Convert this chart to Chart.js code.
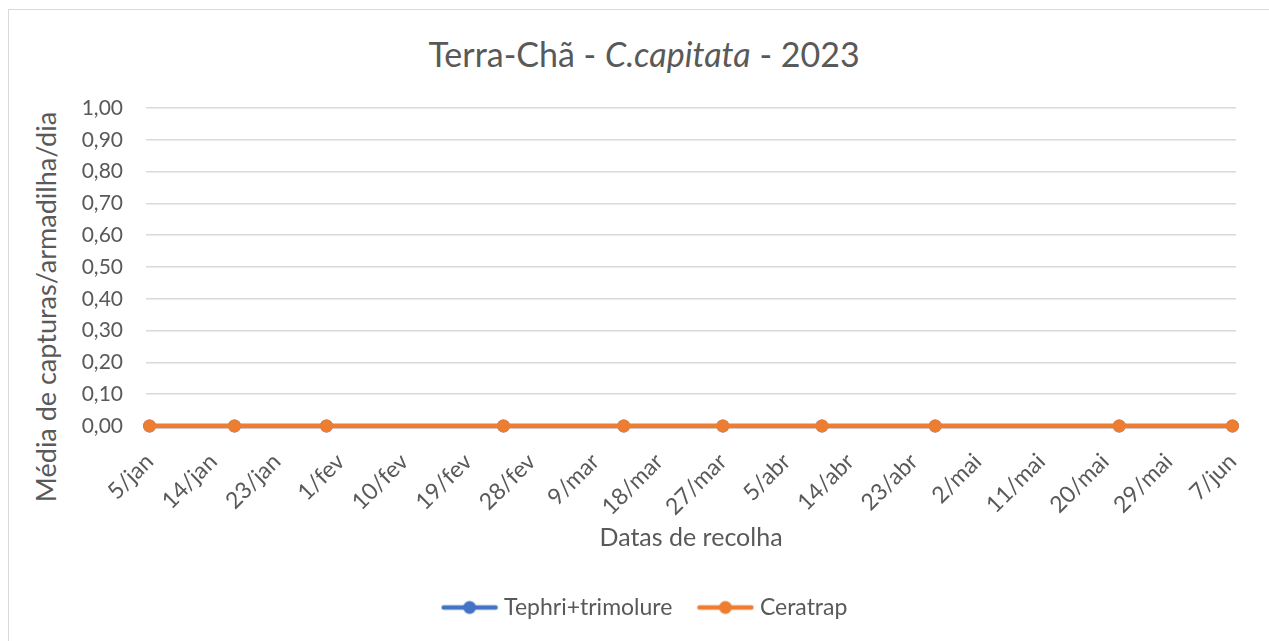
<!DOCTYPE html>
<html lang="pt">
<head>
<meta charset="utf-8">
<title>Terra-Chã - C.capitata - 2023</title>
<script src="https://cdn.jsdelivr.net/npm/chart.js@4/dist/chart.umd.min.js"></script>
<style>
    html, body { margin: 0; padding: 0; background: #ffffff; overflow: hidden; }
    #frame {
        position: absolute; left: 8px; top: 9px; width: 1300px; height: 700px;
        border: 1px solid #d9d9d9; box-sizing: border-box;
    }
    .txt { font-family: Lato, 'Noto Sans', sans-serif; color: #595959; white-space: nowrap; }
    #chartTitle {
        position: absolute; left: 0; width: 1288px; top: 32px; text-align: center;
        font-size: 34px; line-height: 44px;
    }
    #yTitle {
        position: absolute; left: 46px; top: 307px; font-size: 27px; line-height: 30px;
        transform: translate(-50%, -50%) rotate(-90deg);
    }
    #wrap { position: absolute; left: 0; top: 0; width: 1269px; height: 641px; }
</style>
</head>
<body>
<div id="frame"></div>
<div id="chartTitle" class="txt">Terra-Chã - <i>C.capitata</i> - 2023</div>
<div id="yTitle" class="txt">Média de capturas/armadilha/dia</div>
<div id="wrap"><canvas id="myChart" width="1269" height="641"></canvas></div>
<script>
// Datas de recolha
const collectDates = ['2023-01-05', '2023-01-17', '2023-01-30', '2023-02-24', '2023-03-13',
    '2023-03-27', '2023-04-10', '2023-04-26', '2023-05-22', '2023-06-07'];

// Média de capturas/armadilha/dia
const tephriValues = [0, 0, 0, 0, 0, 0, 0, 0, 0, 0];
const ceratrapValues = [0, 0, 0, 0, 0, 0, 0, 0, 0, 0];

// Axis labels
const tickLabels = ['5/jan', '14/jan', '23/jan', '1/fev', '10/fev', '19/fev', '28/fev', '9/mar',
    '18/mar', '27/mar', '5/abr', '14/abr', '23/abr', '2/mai', '11/mai', '20/mai', '29/mai', '7/jun'];
const tickStepDays = 9;

const textColor = '#595959';
const gridColor = '#d9d9d9';
const fontFamily = "Lato, 'Noto Sans', sans-serif";

function dayIndex(iso) {
    const start = Date.parse(collectDates[0] + 'T00:00:00Z');
    return Math.round((Date.parse(iso + 'T00:00:00Z') - start) / 86400000);
}

function toPoints(values) {
    return collectDates.map((d, i) => ({ x: dayIndex(d), y: values[i] }));
}

// Excel-like legend symbol: short line with a dot in the middle
function legendMarker(color) {
    const c = document.createElement('canvas');
    c.width = 58;
    c.height = 16;
    const g = c.getContext('2d');
    g.strokeStyle = color;
    g.lineWidth = 4.5;
    g.lineCap = 'round';
    g.beginPath();
    g.moveTo(3, 8);
    g.lineTo(55, 8);
    g.stroke();
    g.fillStyle = color;
    g.beginPath();
    g.arc(29, 8, 6.5, 0, Math.PI * 2);
    g.fill();
    return c;
}

// nudge the legend to the right like in the original
const legendShift = {
    id: 'legendShift',
    afterLayout(chart) {
        if (chart.legend) {
            chart.legend.left += 29;
            chart.legend.right += 29;
        }
    }
};

const lastDay = dayIndex(collectDates[collectDates.length - 1]);

const ctx = document.getElementById('myChart').getContext('2d');
const myChart = new Chart(ctx, {
    type: 'line',
    data: {
        datasets: [{
            label: 'Tephri+trimolure',
            data: toPoints(tephriValues),
            borderColor: '#4472c4',
            backgroundColor: '#4472c4',
            order: 1
        }, {
            label: 'Ceratrap',
            data: toPoints(ceratrapValues),
            borderColor: '#ed7d31',
            backgroundColor: '#ed7d31',
            order: 0
        }]
    },
    plugins: [legendShift],
    options: {
        responsive: false,
        animation: false,
        devicePixelRatio: 1,
        layout: { padding: { top: 108, right: 33, left: 0, bottom: 12 } },
        elements: {
            line: { borderWidth: 4.5, tension: 0 },
            point: { pointStyle: 'circle', radius: 6.5, borderWidth: 0, hoverRadius: 6.5 }
        },
        datasets: { line: { clip: false } },
        plugins: {
            title: { display: false },
            tooltip: { enabled: false },
            legend: {
                position: 'bottom',
                labels: {
                    usePointStyle: true,
                    pointStyleWidth: 46,
                    padding: 30,
                    color: textColor,
                    font: { family: fontFamily, size: 23 },
                    generateLabels: chart => chart.data.datasets.map((ds, i) => ({
                        text: ds.label,
                        fillStyle: ds.borderColor,
                        strokeStyle: ds.borderColor,
                        fontColor: textColor,
                        lineWidth: 0,
                        pointStyle: legendMarker(ds.borderColor),
                        hidden: false,
                        datasetIndex: i
                    }))
                }
            }
        },
        scales: {
            x: {
                type: 'linear',
                min: -0.5,
                max: lastDay + 0.5,
                grid: { display: false, drawTicks: false },
                border: { display: false },
                afterBuildTicks: scale => {
                    scale.ticks = tickLabels.map((_, i) => ({ value: i * tickStepDays }));
                },
                afterFit: scale => {
                    scale.height = 140;
                    scale.paddingLeft = 0;
                    scale.paddingRight = 0;
                },
                ticks: {
                    autoSkip: false,
                    minRotation: 45,
                    maxRotation: 45,
                    padding: 22,
                    color: textColor,
                    font: { family: fontFamily, size: 23 },
                    callback: (value, index) => tickLabels[index]
                },
                title: {
                    display: true,
                    text: 'Datas de recolha',
                    color: textColor,
                    font: { family: fontFamily, size: 25 },
                    padding: { top: 0, bottom: 13 }
                }
            },
            y: {
                min: 0,
                max: 1,
                grid: { color: gridColor, lineWidth: 1.5, drawTicks: false },
                border: { display: false },
                afterFit: scale => { scale.width = 146; },
                ticks: {
                    stepSize: 0.1,
                    padding: 23,
                    color: textColor,
                    font: { family: fontFamily, size: 21 },
                    callback: value => value.toFixed(2).replace('.', ',')
                }
            }
        }
    }
});
</script>
</body>
</html>
